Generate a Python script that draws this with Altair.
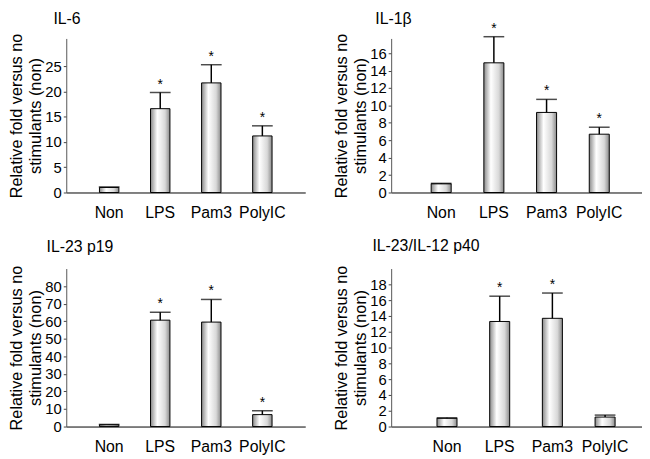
import altair as alt
import pandas as pd

categories = ["Non", "LPS", "Pam3", "PolyIC"]

il6_mean = [1.0, 16.6, 21.7, 11.2]
il6_err = [0.1, 3.2, 3.6, 2.0]
il6_star = [False, True, True, True]

il1b_mean = [1.0, 14.9, 9.2, 6.7]
il1b_err = [0.05, 3.0, 1.5, 0.8]
il1b_star = [False, True, True, True]

il23_mean = [1.0, 60.6, 59.5, 6.8]
il23_err = [0.2, 4.5, 12.9, 2.2]
il23_star = [False, True, True, True]

p40_mean = [1.05, 13.3, 13.7, 1.2]
p40_err = [0.05, 3.2, 3.2, 0.25]
p40_star = [False, True, True, False]

FONT = "Liberation Sans"

grad = alt.Gradient(
    gradient="linear",
    stops=[
        alt.GradientStop(color="#8a8a8a", offset=0),
        alt.GradientStop(color="#ffffff", offset=0.35),
        alt.GradientStop(color="#d8d8d8", offset=0.75),
        alt.GradientStop(color="#8a8a8a", offset=1),
    ],
    x1=0, x2=1, y1=0, y2=0,
)


def panel(title, mean, err, star, domain, ticks, width, height, po, align, dx, ty):
    df = pd.DataFrame({
        "cat": categories,
        "mean": mean,
        "top": [m + e for m, e in zip(mean, err)],
        "star": ["*" if s else "" for s in star],
    })
    xscale = alt.Scale(paddingInner=0.62, paddingOuter=po, align=align)
    xaxis = alt.Axis(labelAngle=0, ticks=False, labelPadding=12, labelFontSize=16,
                     labelFont=FONT, labelColor="black", domainColor="black",
                     domainWidth=1)
    yscale = alt.Scale(domain=domain, nice=False, zero=True)
    yaxis = alt.Axis(
        values=ticks, title=["Relative fold versus no", "stimulants (non)"],
        titleFont=FONT, titleFontSize=16.5, titleFontWeight="normal", titleColor="black",
        titleLineHeight=20, titlePadding=1,
        labelFont=FONT, labelFontSize=15, labelColor="black", labelOverlap=False,
        labelFlush=False, labelPadding=2, tickSize=3, tickColor="#444",
        domainColor="#555", grid=False,
    )

    def X():
        return alt.X("cat:N", sort=categories, title=None, scale=xscale, axis=xaxis)

    def Y(f):
        return alt.Y(f, scale=yscale, axis=yaxis)

    base = alt.Chart(df)
    bars = base.mark_bar(color=grad, stroke="black", strokeWidth=1).encode(
        x=X(), y=Y("mean:Q"),
    )
    rule = base.mark_rule(color="black", strokeWidth=1.5).encode(
        x=X(), y=Y("mean:Q"), y2="top:Q",
    )
    cap = base.mark_tick(color="black", thickness=1.5, size=21, orient="horizontal").encode(
        x=X(), y=Y("top:Q"),
    )
    stars = base.mark_text(font=FONT, fontSize=14, baseline="alphabetic", dy=-4,
                           color="black").encode(
        x=X(), y=Y("top:Q"), text="star:N",
    )
    head = alt.Chart(pd.DataFrame({"t": [title]})).mark_text(
        font=FONT, fontSize=16, align="left", baseline="alphabetic", color="black"
    ).encode(text="t:N", x=alt.value(dx), y=alt.value(ty))
    return alt.layer(bars, rule, cap, stars, head).properties(width=width, height=height)


p1 = panel("IL-6", il6_mean, il6_err, il6_star, [0, 30.5], [0, 5, 10, 15, 20, 25],
           242, 156, 0.65, 0.5, -13, -14.5)
p2 = panel("IL-1β", il1b_mean, il1b_err, il1b_star, [0, 17.7], [0, 2, 4, 6, 8, 10, 12, 14, 16],
           254, 156, 0.69, 0.55, -16, -15)
p3 = panel("IL-23 p19", il23_mean, il23_err, il23_star, [0, 90], [0, 10, 20, 30, 40, 50, 60, 70, 80],
           242, 160, 0.65, 0.5, -20, -16.5)
p4 = panel("IL-23/IL-12 p40", p40_mean, p40_err, p40_star, [0, 20],
           [0, 2, 4, 6, 8, 10, 12, 14, 16, 18],
           254, 160, 0.69, 0.63, -19, -17.5)

chart = alt.concat(p1, p2, p3, p4, columns=2, spacing={"column": 87, "row": 77}).properties(
    padding=0, background="white", bounds="flush"
).configure_view(stroke=None)

chart.save("out.html", embed_options={"renderer": "svg", "actions": False})
